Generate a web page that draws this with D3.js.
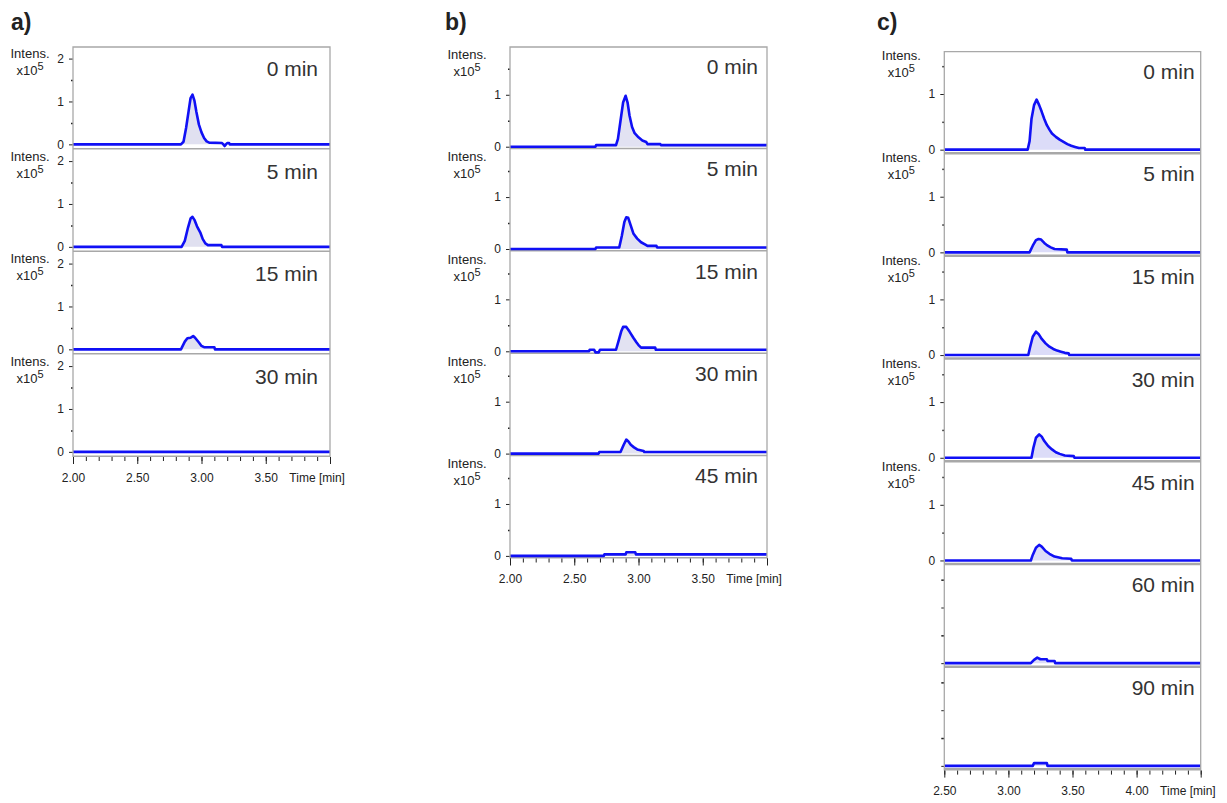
<!DOCTYPE html>
<html lang="en">
<head>
    <meta charset="UTF-8">
    <title>Chromatogram panels</title>
    <script src="https://d3js.org/d3.v7.min.js"></script>
    <style>
        body { margin: 0; background: #fff; }
        svg { font-family: "Liberation Sans", Arial, sans-serif; }
        .tick text { font-size: 12px; fill: #222; }
        .tick line { stroke: #222; }
    </style>
</head>
<body>
    <svg id="chart" width="1227" height="803"></svg>

    <script>
        // ---- data (time in min, intensity in x10^5) ----
        const panelLabels = ["a)", "b)", "c)"];

        const labelsA = ["0 min", "5 min", "15 min", "30 min"];
        const labelsB = ["0 min", "5 min", "15 min", "30 min", "45 min"];
        const labelsC = ["0 min", "5 min", "15 min", "30 min", "45 min", "60 min", "90 min"];

        const xTicksA = [2.00, 2.50, 3.00, 3.50];
        const xTicksB = [2.00, 2.50, 3.00, 3.50];
        const xTicksC = [2.50, 3.00, 3.50, 4.00];

        const yTicksA = [0, 1, 2];
        const yTicksBC = [0, 1];
        const yMinorTicks = [0.5, 1.5];

        const traceA0 = [[2.00,0],[2.84,0],[2.86,0.06],[2.88,0.38],[2.90,0.78],[2.915,1.08],[2.93,1.16],[2.945,1.02],[2.96,0.76],[2.98,0.46],[3.00,0.28],[3.02,0.15],[3.04,0.07],[3.06,0.04],[3.16,0.03],[3.17,0],[3.18,-0.04],[3.19,0],[3.20,0.03],[3.215,0.03],[3.22,0],[4.00,0]];
        const traceA5 = [[2.00,0],[2.845,0],[2.87,0.14],[2.895,0.45],[2.915,0.66],[2.93,0.70],[2.945,0.63],[2.965,0.48],[2.99,0.34],[3.01,0.18],[3.03,0.08],[3.05,0.04],[3.155,0.04],[3.16,0],[4.00,0]];
        const traceA15 = [[2.00,0],[2.84,0],[2.87,0.18],[2.89,0.26],[2.915,0.27],[2.935,0.31],[2.95,0.27],[2.98,0.16],[3.00,0.08],[3.02,0.05],[3.10,0.05],[3.105,0],[4.00,0]];
        const traceA30 = [[2.00,0],[4.00,0]];

        const traceB0 = [[2.00,0],[2.665,0],[2.67,0.03],[2.825,0.03],[2.84,0.15],[2.86,0.50],[2.88,0.85],[2.90,0.98],[2.915,0.85],[2.93,0.60],[2.95,0.38],[2.97,0.26],[3.00,0.18],[3.03,0.12],[3.06,0.09],[3.07,0.05],[3.17,0.05],[3.175,0.03],[4.00,0.03]];
        const traceB5 = [[2.00,0],[2.665,0],[2.67,0.03],[2.85,0.03],[2.87,0.25],[2.89,0.52],[2.905,0.61],[2.92,0.60],[2.94,0.45],[2.96,0.30],[2.99,0.20],[3.02,0.13],[3.05,0.09],[3.07,0.06],[3.14,0.06],[3.145,0.03],[4.00,0.03]];
        const traceB15 = [[2.00,0],[2.615,0],[2.62,0.03],[2.655,0.03],[2.665,-0.02],[2.69,-0.02],[2.70,0.03],[2.825,0.03],[2.845,0.20],[2.865,0.38],[2.88,0.47],[2.905,0.47],[2.93,0.38],[2.96,0.26],[2.985,0.17],[3.00,0.12],[3.02,0.07],[3.13,0.07],[3.135,0.03],[4.00,0.03]];
        const traceB30 = [[2.00,0],[2.69,0],[2.695,0.03],[2.86,0.03],[2.885,0.17],[2.905,0.27],[2.92,0.24],[2.94,0.17],[2.965,0.12],[2.99,0.08],[3.04,0.05],[3.045,0.03],[4.00,0.03]];
        const traceB45 = [[2.00,0],[2.73,0],[2.735,0.03],[2.90,0.03],[2.905,0.07],[2.975,0.07],[2.98,0.03],[4.00,0.03]];

        const traceC0 = [[2.50,0],[3.15,0],[3.165,0.15],[3.18,0.55],[3.20,0.80],[3.22,0.90],[3.24,0.80],[3.26,0.68],[3.28,0.55],[3.30,0.44],[3.32,0.36],[3.34,0.29],[3.37,0.23],[3.40,0.18],[3.43,0.14],[3.46,0.10],[3.49,0.07],[3.52,0.05],[3.55,0.03],[3.595,0.03],[3.60,0],[4.50,0]];
        const traceC5 = [[2.50,0],[3.165,0],[3.19,0.12],[3.215,0.22],[3.235,0.24],[3.255,0.23],[3.28,0.17],[3.30,0.13],[3.33,0.09],[3.36,0.06],[3.455,0.05],[3.46,0],[4.50,0]];
        const traceC15 = [[2.50,0],[3.155,0],[3.17,0.15],[3.19,0.33],[3.215,0.42],[3.235,0.38],[3.26,0.29],[3.29,0.21],[3.32,0.15],[3.35,0.11],[3.38,0.08],[3.41,0.06],[3.44,0.04],[3.47,0.03],[3.475,0],[4.50,0]];
        const traceC30 = [[2.50,0],[3.18,0],[3.195,0.18],[3.215,0.36],[3.24,0.42],[3.26,0.38],[3.28,0.30],[3.31,0.21],[3.34,0.15],[3.37,0.10],[3.40,0.07],[3.44,0.04],[3.51,0.03],[3.515,0],[4.50,0]];
        const traceC45 = [[2.50,0],[3.175,0],[3.19,0.10],[3.215,0.23],[3.24,0.28],[3.26,0.25],[3.29,0.17],[3.32,0.12],[3.36,0.07],[3.42,0.04],[3.49,0.03],[3.495,0],[4.50,0]];
        const traceC60 = [[2.50,0],[3.175,0],[3.20,0.06],[3.225,0.10],[3.25,0.07],[3.30,0.07],[3.305,0.04],[3.36,0.04],[3.365,0],[4.50,0]];
        const traceC90 = [[2.50,0],[3.19,0],[3.20,0.05],[3.30,0.05],[3.305,0],[4.50,0]];

        // ---- layout ----
        const panels = [
            { label: panelLabels[0], labelX: 11, left: 73, right: 330, top: 47, subH: 102.5,
              x: [2.0, 4.0], y: [-0.12, 2.27], xTicks: xTicksA, yTicks: yTicksA,
              names: labelsA, traces: [traceA0, traceA5, traceA15, traceA30],
              unlabeled: 0, intensDy: 11, nameInset: 12, nameDy: 29, fill: "#e0e0f0", band: 1.5 },
            { label: panelLabels[1], labelX: 445, left: 510, right: 767, top: 47, subH: 102.3,
              x: [2.0, 4.0], y: [-0.05, 1.92], xTicks: xTicksB, yTicks: yTicksBC,
              names: labelsB, traces: [traceB0, traceB5, traceB15, traceB30, traceB45],
              unlabeled: 0, intensDy: 12, nameInset: 9, nameDy: 27, fill: "#e2e2f2", band: 1.5 },
            { label: panelLabels[2], labelX: 877, left: 944.3, right: 1200.7, top: 51.7, subH: 102.7,
              x: [2.5, 4.5], y: [-0.085, 1.76], xTicks: xTicksC, yTicks: yTicksBC,
              names: labelsC, traces: [traceC0, traceC5, traceC15, traceC30, traceC45, traceC60, traceC90],
              unlabeled: 2, intensDy: 8, nameInset: 6, nameDy: 27, fill: "#dcdcf8", band: 2.5 }
        ];

        const svg = d3.select("#chart");
        const blue = "#1010f5";
        const frameGray = "#a8a8a8";

        panels.forEach((p, pi) => {
            const n = p.traces.length;
            const bottom = p.top + n * p.subH;
            const x = d3.scaleLinear().domain(p.x).range([p.left, p.right]);

            // panel letter
            svg.append("text")
                .attr("x", p.labelX).attr("y", 30)
                .attr("font-size", 23).attr("font-weight", "bold").attr("fill", "#222")
                .text(p.label);

            p.traces.forEach((tr, i) => {
                const sTop = p.top + i * p.subH;
                const sBot = sTop + p.subH;
                const y = d3.scaleLinear().domain(p.y).range([sBot, sTop]);
                const g = svg.append("g");

                const clipId = `clip-${pi}-${i}`;
                svg.append("clipPath").attr("id", clipId)
                    .append("rect").attr("x", p.left).attr("y", sTop)
                    .attr("width", p.right - p.left + 2).attr("height", p.subH);

                // filled peak area
                const area = d3.area().x(d => x(d[0])).y0(y(0)).y1(d => y(d[1]));
                g.append("path").datum(tr)
                    .attr("clip-path", `url(#${clipId})`)
                    .attr("fill", p.fill).attr("d", area);

                // grey baseline / separator at subplot bottom
                g.append("line")
                    .attr("x1", p.left).attr("x2", p.right)
                    .attr("y1", sBot - p.band / 2).attr("y2", sBot - p.band / 2)
                    .attr("stroke", frameGray).attr("stroke-width", p.band);

                // trace
                const line = d3.line().x(d => x(d[0])).y(d => y(d[1]));
                g.append("path").datum(tr)
                    .attr("fill", "none").attr("stroke", blue)
                    .attr("stroke-width", 2.6).attr("stroke-linejoin", "round")
                    .attr("d", line);

                // y axis ticks
                const labeled = i < n - p.unlabeled;
                const yMajor = d3.axisLeft(y).tickValues(p.yTicks)
                    .tickSize(labeled ? 4 : 3).tickPadding(5)
                    .tickFormat(labeled ? d3.format("d") : () => "");
                const yAxisG = g.append("g").attr("transform", `translate(${p.left},0)`).call(yMajor);
                yAxisG.select(".domain").remove();
                const yMinor = d3.axisLeft(y).tickValues(yMinorTicks)
                    .tickSize(labeled ? 2 : 3).tickFormat("");
                const yMinorG = g.append("g").attr("transform", `translate(${p.left},0)`).call(yMinor);
                yMinorG.select(".domain").remove();
                yMinorG.selectAll("line").attr("stroke-width", 1.5);

                if (labeled) {
                    const cx = p.left - 43;
                    g.append("text")
                        .attr("x", cx).attr("y", sTop + p.intensDy)
                        .attr("text-anchor", "middle").attr("font-size", 13).attr("fill", "#222")
                        .text("Intens.");
                    const t = g.append("text")
                        .attr("x", cx).attr("y", sTop + p.intensDy + 17)
                        .attr("text-anchor", "middle").attr("font-size", 13).attr("fill", "#222");
                    t.append("tspan").text("x10");
                    t.append("tspan").attr("dy", -5).attr("font-size", 11).text("5");
                }

                // time-point label
                g.append("text")
                    .attr("x", p.right - p.nameInset).attr("y", sTop + p.nameDy)
                    .attr("text-anchor", "end").attr("font-size", 21).attr("fill", "#333")
                    .text(p.names[i]);
            });

            // frame: left axis, top, right
            svg.append("path")
                .attr("d", `M${p.left},${bottom}V${p.top}H${p.right}V${bottom}`)
                .attr("fill", "none").attr("stroke", frameGray).attr("stroke-width", 1.3);

            // time axis
            const minorTicks = d3.range(Math.round(p.x[0] * 10), Math.round(p.x[1] * 10) + 1).map(v => v / 10);
            const xMinor = d3.axisBottom(x).tickValues(minorTicks).tickSize(4).tickFormat("");
            const xMinorG = svg.append("g").attr("transform", `translate(0,${bottom})`).call(xMinor);
            xMinorG.select(".domain").remove();

            const xMajor = d3.axisBottom(x).tickValues(p.xTicks.concat([p.x[1]])).tickSize(7).tickPadding(9)
                .tickFormat(d => p.xTicks.includes(d) ? d3.format(".2f")(d) : "");
            const xMajorG = svg.append("g").attr("transform", `translate(0,${bottom})`).call(xMajor);
            xMajorG.select(".domain").remove();

            svg.append("text")
                .attr("x", x(p.x[1] - 0.1)).attr("y", bottom + 24.5)
                .attr("text-anchor", "middle").attr("font-size", 12).attr("fill", "#222")
                .text("Time [min]");
        });
    </script>
</body>
</html>
